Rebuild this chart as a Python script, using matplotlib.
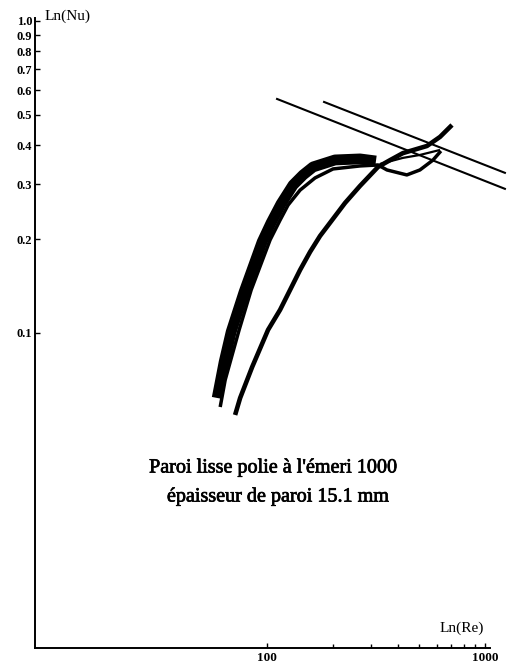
import numpy as np
import matplotlib.pyplot as plt
import matplotlib.patheffects as pe
from matplotlib.ticker import FixedLocator, NullLocator

plt.rcParams['font.family'] = ['Liberation Serif', 'DejaVu Serif']

# Nu(Re) runs, smooth wall polished with 1000 emery paper
# thick bundle of runs
bundle_re = [59.0, 63.5, 68.4, 78.4, 94.9, 104.3, 115.9, 131.6, 146.3, 162.6, 205, 267, 316]
bundle_nu = [0.0619, 0.0807, 0.1008, 0.1353, 0.1958, 0.2253, 0.2592, 0.298, 0.321, 0.3405, 0.3585, 0.3612, 0.3557]

# inner run of the bundle, ends on the lower branch of the loop
inner_re = [60.9, 64.2, 74.4, 84.5, 103.2, 114.7, 124.8, 141.7, 166, 200.8, 267, 323, 355, 438, 503, 577, 628]
inner_nu = [0.0579, 0.0707, 0.1023, 0.1374, 0.1987, 0.230, 0.257, 0.287, 0.314, 0.3355, 0.343, 0.3455, 0.333, 0.321, 0.333, 0.358, 0.383]

# separate run on the right
right_re = [71.3, 75.2, 85.4, 101, 114.7, 127.5, 141.7, 157.5, 175, 198.7, 227.9, 267, 323, 366.7, 420, 542, 622, 706]
right_nu = [0.0546, 0.0619, 0.0778, 0.1023, 0.1186, 0.1374, 0.1592, 0.1819, 0.2046, 0.230, 0.261, 0.296, 0.3405, 0.358, 0.377, 0.3975, 0.425, 0.464]

# middle branch of the loop
mid_re = [329.8, 420, 503, 622]
mid_nu = [0.348, 0.364, 0.372, 0.386]

# straight reference lines
line1_re = [111.1, 1235]
line1_nu = [0.5623, 0.2897]
line2_re = [182.6, 1235]
line2_nu = [0.55, 0.326]

nu_ticks = [0.1, 0.2, 0.3, 0.4, 0.5, 0.6, 0.7, 0.8, 0.9, 1.0]
nu_labels = ['0.1', '0.2', '0.3', '0.4', '0.5', '0.6', '0.7', '0.8', '0.9', '1.0']
re_major = [100, 1000]
re_minor = [200, 300, 400, 500, 600, 700, 800, 900]


def main():
    fig = plt.figure(figsize=(5.08, 6.64), dpi=100)
    ax = fig.add_axes([35 / 508, 16 / 664, 455 / 508, 630 / 664])
    ax.set_xscale('log')
    ax.set_yscale('log')
    ax.set_xlim(8.6, 1055)
    ax.set_ylim(0.00978, 1.022)

    ax.plot(bundle_re, bundle_nu, color='black', lw=7.8, solid_capstyle='butt', solid_joinstyle='round')
    ax.plot(inner_re, inner_nu, color='black', lw=2.5, solid_capstyle='butt')
    ax.plot(right_re, right_nu, color='black', lw=3.3, solid_capstyle='butt')
    ax.plot(mid_re, mid_nu, color='black', lw=1.6, solid_capstyle='butt')
    ax.plot(line1_re, line1_nu, color='black', lw=1.5, clip_on=False)
    ax.plot(line2_re, line2_nu, color='black', lw=1.5, clip_on=False)

    for side in ['top', 'right']:
        ax.spines[side].set_visible(False)
    for side in ['left', 'bottom']:
        ax.spines[side].set_linewidth(1.4)

    ax.yaxis.set_major_locator(FixedLocator(nu_ticks))
    ax.set_yticklabels(nu_labels)
    ax.yaxis.set_minor_locator(NullLocator())
    ax.xaxis.set_major_locator(FixedLocator(re_major))
    ax.set_xticklabels([str(v) for v in re_major])
    ax.xaxis.set_minor_locator(FixedLocator(re_minor))
    ax.xaxis.set_minor_formatter(plt.NullFormatter())

    ax.tick_params(axis='both', which='both', direction='in', width=1.0)
    ax.tick_params(axis='both', which='major', length=3.5)
    ax.tick_params(axis='both', which='minor', length=3)
    ax.tick_params(axis='y', labelsize=9, pad=2)
    ax.tick_params(axis='x', labelsize=9.5, pad=3)
    for lab in ax.get_yticklabels() + ax.get_xticklabels():
        lab.set_fontweight('bold')

    ax.text(0.022, 1.003, 'Ln(Nu)', transform=ax.transAxes, fontsize=11, ha='left', va='center')
    ax.text(0.89, 0.032, 'Ln(Re)', transform=ax.transAxes, fontsize=11, ha='left', va='center')

    heavy = [pe.withStroke(linewidth=0.5, foreground='black')]
    fig.text(273 / 508, 1 - 468 / 664, "Paroi lisse polie à l'émeri 1000",
             fontsize=14.5, ha='center', va='center', path_effects=heavy)
    fig.text(278 / 508, 1 - 497 / 664, 'épaisseur de paroi 15.1 mm',
             fontsize=14.5, ha='center', va='center', path_effects=heavy)

    fig.savefig('out.png', dpi=100)


if __name__ == "__main__":
    main()
